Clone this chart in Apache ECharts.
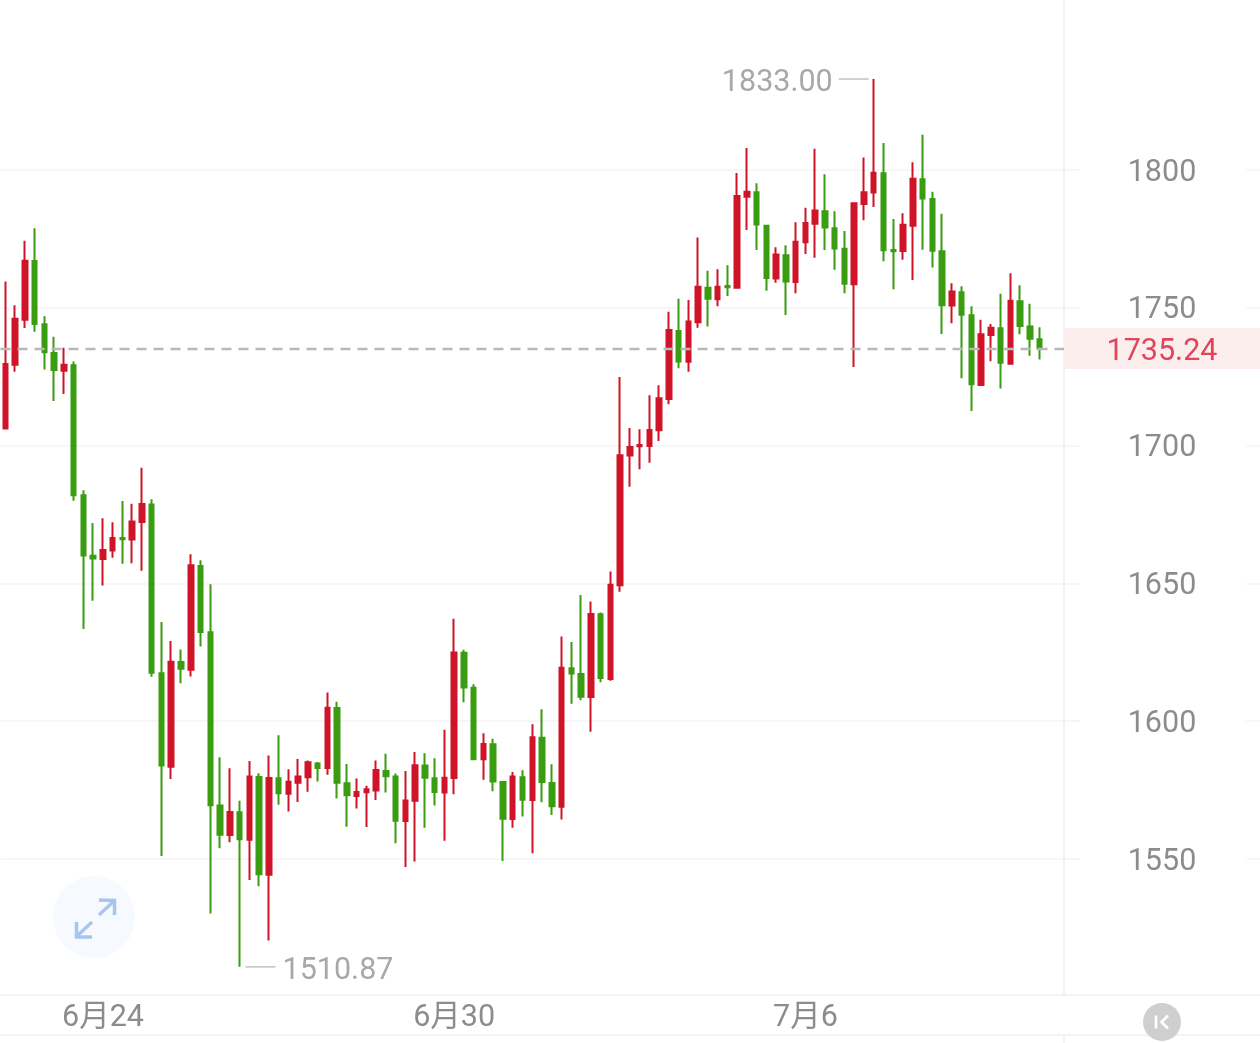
<!DOCTYPE html>
<html>
<head>
<meta charset="utf-8">
<title>K线</title>
<script src="https://cdn.jsdelivr.net/npm/echarts@6/dist/echarts.min.js"></script>
<style>
  html, body { margin: 0; padding: 0; background: #fff; }
  #chart { width: 1260px; height: 1043px; }
</style>
</head>
<body>
<div id="chart"></div>
<script>
// Four-hour candles, oldest first.
const opens = [
  1706.2,1729.3,1745.7,1767.0,1744.0,1733.6,1727.2,1729.2,1682.0,1660.0,
  1658.9,1661.9,1666.5,1665.9,1672.3,1678.6,1617.4,1583.5,1621.5,1618.7,
  1656.3,1632.3,1569.4,1558.7,1567.0,1557.0,1579.8,1544.3,1579.3,1573.7,
  1577.7,1579.7,1584.7,1583.0,1604.8,1577.5,1572.9,1574.2,1574.9,1581.9,
  1579.9,1563.8,1571.1,1583.9,1579.3,1574.1,1579.4,1624.8,1612.1,1586.2,
  1591.6,1577.9,1564.5,1579.7,1571.4,1594.0,1577.6,1569.0,1619.2,1617.1,
  1608.8,1638.8,1615.3,1649.3,1696.4,1699.8,1699.9,1705.6,1716.9,1741.6,
  1730.4,1744.8,1757.3,1753.1,1757.9,1757.3,1790.3,1791.9,1779.8,1760.6,
  1769.1,1759.4,1773.8,1780.5,1785.0,1778.9,1771.4,1758.5,1787.7,1791.8,
  1798.8,1771.0,1770.6,1779.8,1796.6,1789.5,1770.5,1750.8,1755.6,1747.3,
  1722.0,1740.1,1742.6,1729.7,1752.4,1743.2,1738.6
];
const closes = [
  1729.6,1746.0,1767.1,1744.1,1733.9,1727.4,1729.3,1682.0,1660.1,1659.0,
  1662.1,1666.5,1666.0,1672.5,1678.8,1617.6,1583.9,1621.6,1619.0,1656.6,
  1632.4,1569.5,1558.8,1567.1,1557.2,1579.9,1544.5,1579.4,1573.9,1578.0,
  1579.9,1585.1,1583.0,1604.9,1577.7,1573.1,1574.3,1575.3,1582.3,1580.0,
  1563.9,1571.2,1584.0,1579.5,1574.3,1579.5,1624.9,1612.2,1586.2,1591.7,
  1578.1,1564.6,1579.9,1571.5,1594.2,1577.9,1569.1,1619.4,1617.3,1608.9,
  1638.9,1615.7,1649.5,1696.5,1699.5,1700.2,1705.7,1717.2,1741.9,1730.5,
  1745.0,1757.6,1753.3,1757.6,1757.5,1790.6,1792.1,1780.2,1760.8,1769.3,
  1759.5,1774.0,1780.8,1785.3,1779.1,1771.5,1758.7,1787.9,1791.9,1799.0,
  1770.9,1770.5,1780.1,1796.8,1789.7,1770.7,1750.9,1755.9,1747.5,1722.3,
  1740.4,1742.8,1730.1,1752.6,1743.4,1738.8,1735.24
];
const lows = [
  1706.2,1726.8,1742.7,1741.3,1727.6,1716.2,1718.7,1680.0,1633.5,1643.7,
  1649.2,1659.3,1657.1,1657.3,1654.6,1616.1,1551.1,1579.0,1613.8,1616.2,
  1627.1,1530.2,1553.9,1556.1,1510.87,1542.4,1540.1,1520.4,1569.7,1567.2,
  1570.7,1574.4,1578.1,1580.6,1572.0,1561.7,1568.3,1561.6,1571.4,1574.1,
  1555.7,1547.1,1549.1,1561.3,1569.4,1556.6,1573.5,1606.9,1585.8,1578.8,
  1574.6,1549.3,1561.3,1565.4,1552.1,1570.6,1566.0,1564.3,1606.3,1607.6,
  1596.2,1614.1,1614.7,1647.0,1685.1,1691.4,1693.8,1701.7,1715.0,1728.1,
  1726.8,1742.8,1743.2,1750.6,1754.3,1757.3,1778.2,1771.0,1756.2,1759.1,
  1747.4,1755.3,1769.5,1768.2,1771.0,1763.8,1755.3,1728.5,1781.8,1786.6,
  1766.9,1756.7,1767.4,1760.1,1771.1,1764.6,1740.5,1744.4,1724.4,1712.6,
  1722.0,1730.6,1720.7,1729.7,1740.4,1732.6,1731.2
];
const highs = [
  1759.5,1750.9,1774.3,1778.9,1746.9,1739.5,1735.5,1730.5,1683.8,1671.9,
  1673.6,1672.2,1679.9,1678.9,1692.0,1680.5,1636.0,1629.1,1626.0,1660.6,
  1658.4,1649.7,1586.9,1582.9,1571.1,1585.6,1581.1,1587.6,1594.9,1582.6,
  1586.3,1585.7,1585.2,1610.4,1607.1,1584.5,1579.2,1576.6,1585.7,1588.2,
  1581.0,1581.9,1588.8,1588.4,1586.6,1596.9,1637.2,1625.9,1613.4,1595.6,
  1593.6,1578.1,1581.6,1582.2,1598.9,1604.3,1584.4,1630.7,1628.7,1645.8,
  1643.4,1639.4,1654.3,1724.9,1706.4,1705.9,1718.3,1721.9,1748.6,1753.3,
  1752.8,1775.5,1763.4,1764.0,1765.4,1798.9,1808.0,1795.2,1780.0,1772.0,
  1772.7,1781.0,1786.3,1807.7,1798.5,1785.0,1777.9,1788.0,1804.5,1833.0,
  1809.8,1782.2,1784.3,1802.8,1812.8,1792.1,1784.1,1758.9,1757.8,1750.6,
  1745.7,1744.1,1755.1,1762.5,1758.2,1751.5,1742.9
];

const priceTicks = [1550, 1600, 1650, 1700, 1750, 1800];
const dateTicks = ['6月24', '6月30', '7月6'];
const lastPrice = 1735.24;
const candlesPerDay = 6;
const candlesBeforeFirstDate = 10;
const trailingSlots = 2;

// Category names: "M月D" at midnight, "M月D HH:00" for the other candles.
const firstDate = Date.UTC(2022, 5, 24) - candlesBeforeFirstDate * (24 / candlesPerDay) * 3600000;
const categories = [];
for (let i = 0; i < opens.length + trailingSlots; i++) {
  const d = new Date(firstDate + i * (24 / candlesPerDay) * 3600000);
  const day = (d.getUTCMonth() + 1) + '月' + d.getUTCDate();
  categories.push(d.getUTCHours() === 0 ? day : day + ' ' + d.getUTCHours() + ':00');
}

const candles = opens.map((o, i) => [o, closes[i], lows[i], highs[i]]);
const highest = Math.max(...highs);
const lowest = Math.min(...lows);

const font = 'Roboto, "Noto Sans CJK SC", sans-serif';
const RED = '#cf1429';
const GREEN = '#3a9c11';
const GRID = '#f4f4f4';
const FRAME = '#efefef';

const chart = echarts.init(document.getElementById('chart'), null, { renderer: 'canvas' });

function rule(x1, y1, x2, y2) {
  return { type: 'line', silent: true, shape: { x1, y1, x2, y2 }, style: { stroke: FRAME, lineWidth: 1.5 } };
}

const yRange = { min: 1500.66, max: 1861.68 };

chart.setOption({
  animation: false,
  backgroundColor: '#fff',
  grid: [
    { left: 0.5, top: 0, width: 1063.5, height: 995 },
    { left: 1246, top: 0, width: 14, height: 995 }
  ],
  xAxis: [
    {
      type: 'category', gridIndex: 0, data: categories, boundaryGap: true,
      axisLine: { show: false }, axisTick: { show: false }, splitLine: { show: false },
      axisLabel: {
        interval: (i, name) => dateTicks.includes(name),
        margin: 8, hideOverlap: false, color: '#8c8c8c', fontSize: 30.5, fontFamily: font
      }
    },
    { type: 'category', gridIndex: 1, data: [''], show: false }
  ],
  yAxis: [
    {
      type: 'value', gridIndex: 0, position: 'right', scale: true, ...yRange,
      axisLine: { show: true, onZero: false, lineStyle: { color: FRAME, width: 1.5 } },
      axisTick: { show: true, length: 16, customValues: priceTicks, lineStyle: { color: GRID, width: 1.5 } },
      splitLine: { show: true, lineStyle: { color: GRID, width: 1.5 } },
      axisLabel: {
        customValues: priceTicks, margin: 98, align: 'center', showMinLabel: true, showMaxLabel: true,
        formatter: v => '{t|' + v + '}',
        rich: { t: { padding: [6, 0, 0, 0], color: '#8c8c8c', fontSize: 30.5, fontFamily: font } },
        color: '#8c8c8c', fontSize: 30.5, fontFamily: font
      }
    },
    {
      type: 'value', gridIndex: 1, position: 'right', scale: true, ...yRange,
      axisLine: { show: false }, axisLabel: { show: false },
      axisTick: { show: false, customValues: priceTicks },
      splitLine: { show: true, lineStyle: { color: GRID, width: 1.5 } }
    }
  ],
  series: [{
    type: 'candlestick',
    xAxisIndex: 0, yAxisIndex: 0,
    data: candles,
    barWidth: 5,
    clip: false,
    itemStyle: { color: RED, color0: GREEN, borderColor: RED, borderColor0: GREEN, borderWidth: 2 },
    markLine: {
      silent: true, symbol: 'none', animation: false,
      lineStyle: { color: '#b8b8b8', type: [10, 7], width: 2.4 },
      label: {
        show: true, position: 'end', distance: 98, formatter: () => '{p|' + lastPrice.toFixed(2) + '}',
        width: 196, height: 41, align: 'center', verticalAlign: 'middle',
        backgroundColor: '#fdeeee',
        rich: { p: { lineHeight: 41, padding: [8, 0, 0, 0], color: '#e0455b', fontSize: 30.5, fontFamily: font } }
      },
      data: [{ yAxis: lastPrice }]
    },
    markPoint: {
      silent: true, animation: false,
      symbol: 'rect',
      itemStyle: { color: '#c6c6c6' },
      label: { color: '#a8a8a8', fontSize: 30.5, fontFamily: font },
      data: [
        {
          coord: [highs.indexOf(highest), highest], value: highest,
          symbolSize: [30, 1.6], symbolOffset: [-20, 0],
          label: { show: true, position: 'left', distance: 6, offset: [0, 4.5], formatter: () => highest.toFixed(2) }
        },
        {
          coord: [lows.indexOf(lowest), lowest], value: lowest,
          symbolSize: [30, 1.6], symbolOffset: [21, 0],
          label: { show: true, position: 'right', distance: 7, offset: [0, 4.5], formatter: () => lowest.toFixed(2) }
        }
      ]
    }
  }],
  graphic: [
    // Frame of the date strip.
    rule(0, 995, 1260, 995),
    rule(0, 1035, 1260, 1035),
    rule(1064, 1035, 1064, 1043),
    // Full-screen button.
    { type: 'circle', silent: true, shape: { cx: 94, cy: 917, r: 41 }, style: { fill: '#f6faff' } },
    {
      type: 'polyline', silent: true,
      shape: { points: [[99, 900], [114.5, 900.5], [114.5, 915]] },
      style: { stroke: '#a9c5ee', lineWidth: 3.5, fill: null }
    },
    { type: 'line', silent: true, shape: { x1: 114, y1: 901, x2: 99, y2: 915 }, style: { stroke: '#a9c5ee', lineWidth: 3.5 } },
    {
      type: 'polyline', silent: true,
      shape: { points: [[76.5, 922], [76.5, 937], [92, 937]] },
      style: { stroke: '#a9c5ee', lineWidth: 3.5, fill: null }
    },
    { type: 'line', silent: true, shape: { x1: 77, y1: 936, x2: 92, y2: 922 }, style: { stroke: '#a9c5ee', lineWidth: 3.5 } },
    // Jump-to-latest button.
    { type: 'circle', silent: true, shape: { cx: 1162, cy: 1022, r: 19 }, style: { fill: '#cfcfcf' } },
    { type: 'line', silent: true, shape: { x1: 1156, y1: 1015.5, x2: 1156, y2: 1028.5 }, style: { stroke: '#fff', lineWidth: 2.6 } },
    {
      type: 'polyline', silent: true,
      shape: { points: [[1168, 1015.5], [1161.5, 1022], [1168, 1028.5]] },
      style: { stroke: '#fff', lineWidth: 2.6, fill: null }
    }
  ]
});
</script>
</body>
</html>
